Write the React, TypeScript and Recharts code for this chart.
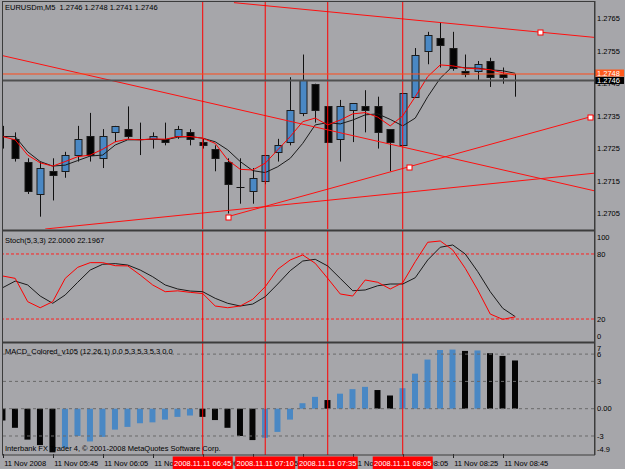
import React from 'react';
import { ComposedChart, Bar, Line, XAxis, YAxis, ReferenceLine, ReferenceDot, Cell } from 'recharts';

// ---------------- data ----------------
const symbol = 'EURUSDm,M5';
const opens = [1.2729,1.2728,1.2721,1.2711,1.2718,1.2718,1.2723,1.2729,1.2722,1.2730,1.2731,1.2728,1.2728,1.2728,1.2729,1.2730,1.2727,1.2725,1.2721,1.2713,1.2712,1.2715,1.2724,1.2727,1.2736,1.2745,1.2738,1.2728,1.2737,1.2738,1.2738,1.2731,1.2726,1.2741,1.2755,1.2759,1.2756,1.2749,1.2749,1.2752,1.2748,1.2746];
const highs = [1.2732,1.2730,1.2722,1.2721,1.2722,1.2724,1.2732,1.2736,1.2731,1.2732,1.2738,1.2733,1.2730,1.2733,1.2732,1.2731,1.2728,1.2726,1.2722,1.2722,1.2719,1.2723,1.2728,1.2747,1.2754,1.2745,1.2738,1.2740,1.2739,1.2743,1.2741,1.2731,1.2742,1.2756,1.2761,1.2764,1.2761,1.2754,1.2752,1.2753,1.2750,1.2748];
const lows = [1.2725,1.2721,1.2711,1.2704,1.2709,1.2716,1.2721,1.2721,1.2719,1.2727,1.2728,1.2723,1.2725,1.2726,1.2728,1.2726,1.2725,1.2718,1.2705,1.2708,1.2708,1.2714,1.2721,1.2726,1.2735,1.2733,1.2727,1.2721,1.2727,1.2730,1.2725,1.2718,1.2726,1.2741,1.2751,1.2750,1.2749,1.2747,1.2746,1.2744,1.2745,1.2741];
const closes = [1.2729,1.2722,1.2712,1.2719,1.2717,1.2723,1.2728,1.2723,1.2729,1.2732,1.2729,1.2728,1.2729,1.2727,1.2731,1.2728,1.2726,1.2722,1.2714,1.2713,1.2716,1.2723,1.2726,1.2737,1.2746,1.2737,1.2727,1.2738,1.2739,1.2737,1.2730,1.2727,1.2742,1.2754,1.2760,1.2757,1.2750,1.2748,1.2751,1.2747,1.2747,1.2746];
const maFast = [1.27287,1.27277,1.27230,1.27206,1.27196,1.27210,1.27225,1.27230,1.27248,1.27271,1.27279,1.27277,1.27280,1.27279,1.27287,1.27287,1.27282,1.27266,1.27215,1.27186,1.27184,1.27205,1.27246,1.27287,1.27333,1.27344,1.27323,1.27338,1.27357,1.27361,1.27347,1.27320,1.27351,1.27410,1.27472,1.27508,1.27505,1.27498,1.27496,1.27493,1.27484,1.27477];
const maSlow = [1.27287,1.27287,1.27240,1.27210,1.27196,1.27199,1.27213,1.27227,1.27230,1.27261,1.27277,1.27277,1.27279,1.27277,1.27285,1.27287,1.27282,1.27271,1.27246,1.27210,1.27182,1.27176,1.27194,1.27220,1.27266,1.27323,1.27330,1.27326,1.27338,1.27354,1.27357,1.27340,1.27320,1.27344,1.27410,1.27467,1.27504,1.27499,1.27498,1.27493,1.27490,1.27482];
const stochMain = [59.7,57.5,36,30.4,36,57.5,67.7,72,72,69.2,69,60.6,51.4,45.2,46,44.6,43.5,32,30.4,32,38.2,49.8,65.9,74.5,79.1,71.4,57.5,43.1,41.2,56,53.9,47.7,53.5,72.9,90.8,92,83.7,66.8,46.8,24.6,19.7,22.0];
const stochSignal = [48.9,55,51.4,41.2,34.5,42.2,53.9,65.2,70.5,71.1,69.8,65.2,59,51.4,47.7,45.8,45.2,39.1,34.5,32,33.8,40.6,52.3,64.6,73.5,75.1,68.9,57.5,46.1,46.8,50.7,52.3,52.3,58.1,74.5,86.2,88.3,80,63.7,45.2,29.9,22.1967];
const macdValues = [-1.3,-2.1,-3.4,-4.0,-4.8,-4.3,-3.0,-3.6,-3.1,-2.3,-2.0,-1.6,-1.5,-1.2,-0.9,-0.75,-0.9,-1.25,-2.1,-3.0,-3.45,-3.2,-2.55,-1.2,0.6,1.3,0.95,1.65,2.15,2.4,2.05,1.45,2.25,3.85,5.4,6.45,6.5,6.35,6.4,6.1,5.8,5.3];
const macdUp = [0,0,0,0,0,1,1,1,1,1,1,1,1,1,1,1,0,0,0,0,0,1,1,1,1,1,0,1,1,1,0,0,1,1,1,1,1,0,1,0,0,0];
const macdTitle = 'MACD_Colored_v105 (12,26,1) 0.0 5.3 5.3 5.3 0.0';
const copyright = 'Interbank FX Trader 4, \u00a9 2001-2008 MetaQuotes Software Corp.';

const priceTicks = [1.2705, 1.2715, 1.2725, 1.2735, 1.2745, 1.2755, 1.2765];
const stochTicks = [0, 20, 80, 100];
const stochLevels = [80, 20];
const macdTicks = [7, 6, 3, 0, -3, -4.9];
const macdLevels = [6, 3, 0, -3];
const timeTickIdx = [0, 4, 8, 12, 16, 20, 24, 28, 32, 36, 40];
const timeTickLabels = ['11 Nov 2008', '11 Nov 05:45', '11 Nov 06:05', '11 Nov 06:25', '11 Nov 06:45', '11 Nov 07:05', '11 Nov 07:25', '11 Nov 07:45', '11 Nov 08:05', '11 Nov 08:25', '11 Nov 08:45'];
const vLineIdx = [16, 21, 26, 32];
const vLineLabels = ['2008.11.11 06:45', '2008.11.11 07:10', '2008.11.11 07:35', '2008.11.11 08:05'];
// trend lines: [startIdx, startPrice, endIdx, endPrice]
const trendLines = [
  [18.5, 1.27700, 47.3, 1.27593],
  [-0.056, 1.27537, 47.3, 1.27120],
  [18, 1.27040, 47.3, 1.27351],
  [3.4, 1.27002, 47.3, 1.27174],
];
const anchorIdx = [43, 18, 32.5, 47];
const anchorPrice = [1.27609, 1.27040, 1.27194, 1.27348];
const askPrice = 1.2748;
const bidPrice = 1.2746;

// ---------------- layout constants ----------------
const X_MIN = -0.056;
const X_MAX = 47.3;
const PRICE_DOMAIN = [1.27002, 1.27702];
const MACD_DOMAIN = [-5.09, 7.22];
const BG = '#a6a6aa';
const BLUE = '#4a88c4';
const FONT = 'Liberation Sans, Arial, sans-serif';
const FS = 7.5;

const mainData = opens.map((o, i) => ({
  i, o, h: highs[i], l: lows[i], c: closes[i], range: [lows[i], highs[i]], maFast: maFast[i], maSlow: maSlow[i],
}));
const stochData = stochMain.map((m, i) => ({ i, main: m, signal: stochSignal[i] }));
const macdData = macdValues.map((v, i) => ({ i, macd: v, up: macdUp[i] }));

const Candle = (props: any) => {
  const { x, y, width, height, payload } = props;
  if (!payload || !isFinite(y) || !isFinite(height)) return null;
  const { o, h, l, c } = payload;
  const k = height / (h - l);
  const py = (v: number) => y + (h - v) * k;
  const cx = Math.round(x + width / 2) + 0.5;
  const top = Math.round(py(Math.max(o, c)));
  const bot = Math.round(py(Math.min(o, c)));
  const up = c > o;
  return (
    <g>
      <line x1={cx} x2={cx} y1={y} y2={y + height} stroke="#111" strokeWidth={1} />
      {o === c ? (
        <line x1={cx - 4} x2={cx + 4} y1={top + 0.5} y2={top + 0.5} stroke="#111" strokeWidth={1} />
      ) : (
        <rect x={cx - 3.5} y={top + 0.5} width={7} height={Math.max(bot - top, 1)} fill={up ? BLUE : '#050505'} stroke="#1c1c1c" strokeWidth={1} />
      )}
    </g>
  );
};

const makeYTick = (fmt: (v: number) => string, shiftTop: number, shiftBottom: number, topV: number, botV: number) => (p: any) => {
  const v = p.payload.value;
  const dy = v === topV ? shiftTop : v === botV ? shiftBottom : 0;
  return (
    <text x={p.x + 3} y={p.y + dy} dy="0.35em" fontSize={FS} fontFamily={FONT} fill="#000">{fmt(v)}</text>
  );
};

const PriceTick = makeYTick((v) => v.toFixed(4), 0, 0, 99, -99);
const StochTick = makeYTick((v) => String(v), 4.6, -4.6, 100, 0);
const MacdTick = makeYTick((v) => (v === 0 ? '0.00' : String(v)), 3, -4.3, 7, -4.9);

const TimeTick = (p: any) => {
  const v = p.payload.value;
  const idx = timeTickIdx.indexOf(v);
  return (
    <g>
      <line x1={Math.round(p.x) + 0.5} x2={Math.round(p.x) + 0.5} y1={p.y - 1} y2={p.y + 3} stroke="#222" />
      <text x={p.x + 1.5} y={p.y + 10.5} fontSize={FS} fontFamily={FONT} fill="#000">{timeTickLabels[idx]}</text>
    </g>
  );
};

const priceBox = (text: string, bg: string, off: number) => (p: any) => {
  const vb = p.viewBox;
  const x0 = vb.x + vb.width + 1;
  return (
    <g>
      <rect x={x0} y={vb.y + off} width={29} height={7} fill={bg} />
      <text x={x0 + 2} y={vb.y + off + 3.5} dy="0.35em" fontSize={FS} fontFamily={FONT} fill="#fff">{text}</text>
    </g>
  );
};

const vLabel = (text: string) => (p: any) => {
  const vb = p.viewBox;
  const cx = vb.x;
  const yb = vb.y + vb.height;
  return (
    <g>
      <rect x={cx - 30} y={yb + 1.5} width={60} height={12.5} fill="#ff0000" />
      <text x={cx} y={yb + 10.5} textAnchor="middle" fontSize={FS} fontFamily={FONT} fill="#fff">{text}</text>
    </g>
  );
};

const Anchor = (p: any) => (
  <rect x={Math.round(p.cx) - 2} y={Math.round(p.cy) - 2} width={5} height={5} fill="#fff" stroke="#ff0000" strokeWidth={1} />
);

const MAIN_MARGIN = { top: 2, right: 0, bottom: 2, left: 2 };
const MACD_MARGIN = { top: 2, right: 0, bottom: 0, left: 2 };

export default function App() {
  const last = opens.length - 1;
  const mainTitle = `${symbol}  ${opens[last].toFixed(4)} ${highs[last].toFixed(4)} ${lows[last].toFixed(4)} ${closes[last].toFixed(4)}`;
  const stochTitle = `Stoch(5,3,3) ${stochMain[last].toFixed(4)} ${stochSignal[last].toFixed(4)}`;
  return (
    <div style={{ position: 'absolute', left: 0, top: 0, width: 625, height: 469, background: BG, overflow: 'hidden' }}>
      {/* main price panel */}
      <div style={{ position: 'absolute', left: 0, top: 0 }}>
        <ComposedChart width={625} height={231} data={mainData} margin={MAIN_MARGIN}>
          <XAxis type="number" dataKey="i" domain={[X_MIN, X_MAX]} hide allowDataOverflow />
          <YAxis orientation="right" width={31} domain={PRICE_DOMAIN} allowDataOverflow ticks={priceTicks} interval={0}
            axisLine={false} tickLine={false} tickSize={0} tickMargin={0} tick={PriceTick} />
          <Bar dataKey="range" barSize={7} shape={(p: any) => <Candle {...p} />} isAnimationActive={false} />
          <Line dataKey="maSlow" stroke="#1a1a1a" strokeWidth={1} dot={false} isAnimationActive={false} type="linear" />
          <Line dataKey="maFast" stroke="#ff0000" strokeWidth={1} dot={false} isAnimationActive={false} type="linear" />
          {trendLines.map((t, k) => (
            <ReferenceLine key={'t' + k} segment={[{ x: t[0], y: t[1] }, { x: t[2], y: t[3] }]} stroke="#ff1010" strokeWidth={1} ifOverflow="hidden" />
          ))}
          {vLineIdx.map((v) => (
            <ReferenceLine key={'v' + v} x={v} stroke="#ff0000" strokeWidth={1} />
          ))}
          <ReferenceLine y={bidPrice} stroke="#505050" strokeWidth={2} />
          <ReferenceLine y={askPrice} stroke="#ff4a1a" strokeWidth={1} />
          {anchorIdx.map((a, k) => (
            <ReferenceDot key={'a' + k} x={a} y={anchorPrice[k]} r={2} shape={Anchor} ifOverflow="visible" />
          ))}
        </ComposedChart>
      </div>
      {/* price label boxes, drawn above the axis labels */}
      <div style={{ position: 'absolute', left: 0, top: 0 }}>
        <ComposedChart width={625} height={231} data={mainData} margin={MAIN_MARGIN}>
          <XAxis type="number" dataKey="i" domain={[X_MIN, X_MAX]} hide allowDataOverflow />
          <YAxis orientation="right" width={31} domain={PRICE_DOMAIN} allowDataOverflow tick={false} axisLine={false} tickLine={false} />
          <ReferenceLine y={bidPrice} stroke="none" label={priceBox(bidPrice.toFixed(4), '#000', -3.5)} />
          <ReferenceLine y={askPrice} stroke="none" label={priceBox(askPrice.toFixed(4), '#ff5a1e', -4.5)} />
        </ComposedChart>
      </div>
      {/* stochastic panel */}
      <div style={{ position: 'absolute', left: 0, top: 229 }}>
        <ComposedChart width={625} height={115} data={stochData} margin={MAIN_MARGIN}>
          <XAxis type="number" dataKey="i" domain={[X_MIN, X_MAX]} hide allowDataOverflow />
          <YAxis orientation="right" width={31} domain={[-1.2, 101.2]} allowDataOverflow ticks={stochTicks} interval={0}
            axisLine={false} tickLine={false} tickSize={0} tickMargin={0} tick={StochTick} />
          {stochLevels.map((l) => (
            <ReferenceLine key={'s' + l} y={l} stroke="#ff2020" strokeDasharray="3 2" strokeWidth={1} />
          ))}
          {vLineIdx.map((v) => (
            <ReferenceLine key={'v' + v} x={v} stroke="#ff0000" strokeWidth={1} />
          ))}
          <Line dataKey="signal" stroke="#1a1a1a" strokeWidth={1} dot={false} isAnimationActive={false} type="linear" />
          <Line dataKey="main" stroke="#ff0000" strokeWidth={1} dot={false} isAnimationActive={false} type="linear" />
        </ComposedChart>
      </div>
      {/* MACD panel + time axis */}
      <div style={{ position: 'absolute', left: 0, top: 341 }}>
        <ComposedChart width={625} height={128} data={macdData} margin={MACD_MARGIN}>
          <XAxis type="number" dataKey="i" domain={[X_MIN, X_MAX]} allowDataOverflow ticks={timeTickIdx} interval={0} height={14}
            axisLine={false} tickLine={false} tickSize={0} tickMargin={0} tick={TimeTick} />
          <YAxis orientation="right" width={31} domain={MACD_DOMAIN} allowDataOverflow ticks={macdTicks} interval={0}
            axisLine={false} tickLine={false} tickSize={0} tickMargin={0} tick={MacdTick} />
          {macdLevels.map((l) => (
            <ReferenceLine key={'m' + l} y={l} stroke="#6a6a6a" strokeDasharray="3 3" strokeWidth={1} />
          ))}
          <Bar dataKey="macd" barSize={6} isAnimationActive={false}>
            {macdData.map((d, k) => (
              <Cell key={k} fill={d.up ? BLUE : '#050505'} />
            ))}
          </Bar>
        </ComposedChart>
      </div>
      {/* vertical lines + their time labels, above the time axis */}
      <div style={{ position: 'absolute', left: 0, top: 341 }}>
        <ComposedChart width={625} height={128} data={macdData} margin={MACD_MARGIN}>
          <XAxis type="number" dataKey="i" domain={[X_MIN, X_MAX]} allowDataOverflow height={14} tick={false} axisLine={false} tickLine={false} />
          <YAxis orientation="right" width={31} domain={MACD_DOMAIN} allowDataOverflow tick={false} axisLine={false} tickLine={false} />
          {vLineIdx.map((v, k) => (
            <ReferenceLine key={'v' + v} x={v} stroke="#ff0000" strokeWidth={1} label={vLabel(vLineLabels[k])} />
          ))}
        </ComposedChart>
      </div>
      {/* frame + titles */}
      <svg width={625} height={469} style={{ position: 'absolute', left: 0, top: 0, pointerEvents: 'none' }}>
        <rect x={2} y={1} width={593} height={1} fill="#3c3c3c" />
        <rect x={2} y={1} width={1} height={454} fill="#3c3c3c" />
        <rect x={594} y={1} width={1.5} height={454} fill="#3c3c3c" />
        <rect x={2} y={229.5} width={593} height={2} fill="#3c3c3c" />
        <rect x={2} y={341.5} width={593} height={2} fill="#3c3c3c" />
        <rect x={2} y={454.5} width={593} height={1} fill="#3c3c3c" />
        <text x={5} y={10} fontSize={FS} fontFamily={FONT} fill="#000" style={{ whiteSpace: 'pre' }}>{mainTitle}</text>
        <text x={5} y={242.5} fontSize={FS} fontFamily={FONT} fill="#000">{stochTitle}</text>
        <text x={5} y={354} fontSize={FS} fontFamily={FONT} fill="#000">{macdTitle}</text>
        <text x={5} y={450.5} fontSize={FS} fontFamily={FONT} fill="#000">{copyright}</text>
      </svg>
    </div>
  );
}
